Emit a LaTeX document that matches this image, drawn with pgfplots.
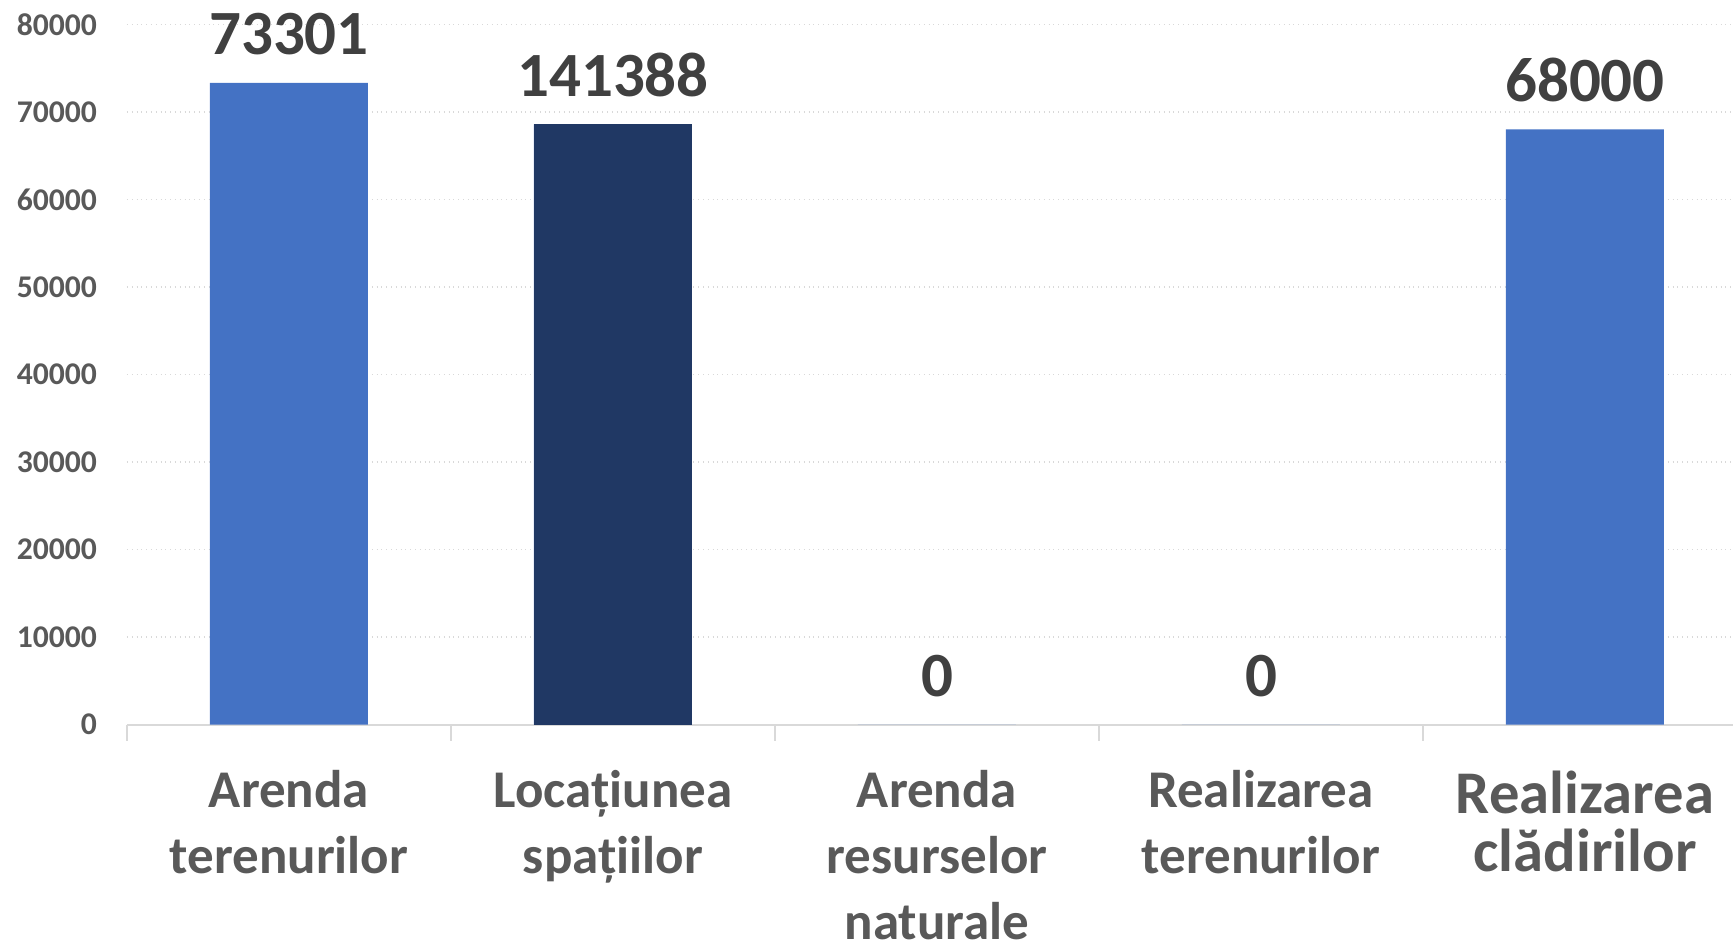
\documentclass[border=0pt]{standalone}
\usepackage{pgfplots}
\pgfplotsset{compat=1.18}
\usepackage{pgfplotstable}
\usepackage{fontspec}
\setmainfont{Carlito}
\definecolor{barA}{HTML}{4472C4}
\definecolor{barB}{HTML}{203864}
\definecolor{txtgrey}{HTML}{595959}
\definecolor{lblgrey}{HTML}{404040}
\definecolor{gridgrey}{HTML}{D9D9D9}
\pgfplotstableread{
x y label
0 73301 73301
1 68570 141388
2 0 0
3 0 0
4 68000 68000
}\datatab
\begin{document}
\begin{tikzpicture}
\begin{axis}[
  scale only axis,
  width=803pt, height=350.1pt,
  xmin=-0.5, xmax=4.457,
  ymin=0, ymax=80000,
  ytick={0,10000,...,80000},
  scaled y ticks=false,
  /pgf/number format/fixed,
  /pgf/number format/set thousands separator={},
  /pgf/number format/assume math mode=true,
  y tick label style={font=\fontsize{15.8}{18}\selectfont\bfseries, text=txtgrey, xshift=-11.5pt},
  ymajorgrids,
  major grid style={draw=gridgrey, dotted, line width=0.8pt},
  axis x line*=bottom, axis y line*=left,
  x axis line style={draw=gridgrey, line width=1pt},
  y axis line style={draw=none},
  ytick style={draw=none},
  xtick={0,1,2,3,4},
  xtick style={draw=gridgrey, line width=1pt},
  major tick length=0pt,
  tick align=outside,
  xticklabels={{Arenda\\terenurilor},{Locațiunea\\spațiilor},{Arenda\\resurselor\\naturale},{Realizarea\\terenurilor},{\fontsize{30.3}{30}\selectfont Realizarea\\[-4pt]\fontsize{30.3}{30}\selectfont clădirilor}},
  x tick label style={font=\fontsize{26.5}{33}\selectfont\bfseries, text=txtgrey, align=center, anchor=north, yshift=-19.5pt},
  extra x ticks={-0.5,0.5,1.5,2.5,3.5},
  extra x tick labels={},
  extra x tick style={grid=none, major tick length=8pt},
  ybar, bar width=79pt,
  bar shift=0pt,
  clip=false,
]
\addplot[draw=none, fill=barA, nodes near coords={\pgfplotspointmeta}, point meta=explicit symbolic,
  every node near coord/.append style={font=\fontsize{31.5}{36}\selectfont\bfseries, text=lblgrey, anchor=base, yshift=14pt}]
  table[x=x, y=y, meta=label] {\datatab};
\addplot[draw=none, fill=barB] coordinates {(1,68570)};
\end{axis}
\pgfresetboundingbox
\useasboundingbox (-63.5pt,-109.25pt) rectangle (803.5pt,362.25pt);
\end{tikzpicture}
\end{document}
